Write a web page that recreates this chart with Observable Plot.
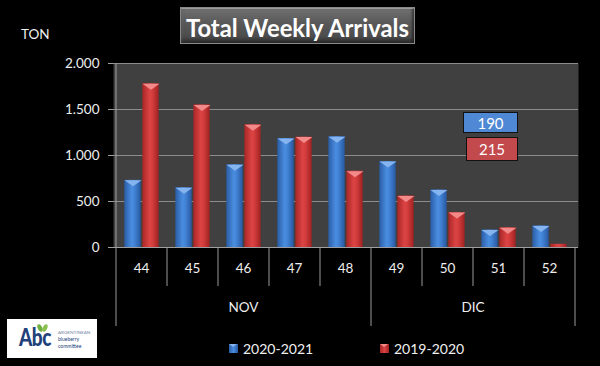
<!DOCTYPE html>
<html><head><meta charset="utf-8">
<script src="https://cdn.jsdelivr.net/npm/d3@7"></script>
<script src="https://cdn.jsdelivr.net/npm/@observablehq/plot@0.6"></script>
<style>
html,body{margin:0;padding:0;background:#000;overflow:hidden;}
#wrap{position:relative;width:600px;height:366px;background:#000;overflow:hidden;font-family:Lato,"Open Sans",sans-serif;color:#eee;}
#chart{position:absolute;left:0;top:0;}
.abs{position:absolute;}
#ton{left:21px;top:26px;font-size:13.5px;line-height:16px;color:#f0f0f0;}
#title{left:180px;top:7px;width:235px;height:37px;box-sizing:border-box;border:1px solid #8a8a8a;
  background:linear-gradient(#707070,#585858 45%,#474747);
  box-shadow:inset 0 1px 0 rgba(255,255,255,.35),inset 0 -3px 4px rgba(0,0,0,.45),inset 2px 0 2px rgba(255,255,255,.12),inset -2px 0 2px rgba(0,0,0,.3);}
#title svg{position:absolute;left:0;top:0;}
.box{display:flex;align-items:center;justify-content:center;box-sizing:border-box;border:1.5px solid #111;color:#fff;font-size:15px;}
.leg{display:flex;align-items:center;height:16px;font-size:14px;color:#f0f0f0;}
.ico{width:9px;height:9px;margin-right:5px;position:relative;}
</style></head><body>
<div id="wrap">
  <div id="chart"></div>
  <div id="ton" class="abs"></div>
  <div id="title" class="abs"></div>
  <div id="boxBlue" class="abs box"></div>
  <div id="boxRed" class="abs box"></div>
  <div id="legend"></div>
  <div id="logo" class="abs" style="left:7px;top:319px;width:90px;height:39px;background:#fff;"></div>
</div>
<script>
// ---- data ----
const weeks = ["44","45","46","47","48","49","50","51","52"];
const arrivals2021 = [730, 650, 900, 1185, 1205, 935, 625, 190, 235];
const arrivals2020 = [1780, 1550, 1335, 1200, 830, 560, 380, 215, 35];
const seriesNames = ["2020-2021", "2019-2020"];
const monthLabels = ["NOV", "DIC"];
const monthWeekCounts = [5, 4];
const yTicks = [0, 500, 1000, 1500, 2000];
const titleText = "Total Weekly Arrivals";
const unitLabel = "TON";
const highlightWeek = "51";

const rows2021 = weeks.map((w, i) => ({week: w, value: arrivals2021[i], series: seriesNames[0]}));
const rows2020 = weeks.map((w, i) => ({week: w, value: arrivals2020[i], series: seriesNames[1]}));

const W = 600, H = 366, mL = 113, mR = 22, mT = 63, mB = 119;
const step = (W - mL - mR) / weeks.length;
const barW = 17, gap = 1;
const padL = (step - 2 * barW - gap) / 2;
const blueInsetL = padL, blueInsetR = step - padL - barW;
const redInsetL = padL + barW + gap, redInsetR = padL;
const blueDx = padL + barW / 2 - step / 2;
const redDx = padL + barW + gap + barW / 2 - step / 2;

const fmt = d3.formatLocale({decimal: ",", thousands: ".", grouping: [3], currency: ["", ""]}).format(",");

const chevron = {draw(ctx) { ctx.moveTo(-barW/2, 0); ctx.lineTo(barW/2, 0); ctx.lineTo(0, 6); ctx.closePath(); }};

function xAxisRender(index, scales, values, dims) {
  const x = scales.x;
  const st = x(weeks[1]) - x(weeks[0]);
  const left0 = x(weeks[0]);
  const y0 = dims.height - dims.marginBottom;
  const g = d3.create("svg:g");
  g.append("line").attr("x1", left0).attr("x2", left0).attr("y1", dims.marginTop).attr("y2", y0)
    .attr("stroke", "#a0a0a0");
  const starts = [0];
  monthWeekCounts.forEach(c => starts.push(starts[starts.length - 1] + c));
  for (let i = 0; i <= weeks.length; i++) {
    const xx = left0 + i * st;
    const long = starts.includes(i);
    g.append("line").attr("x1", xx).attr("x2", xx).attr("y1", y0).attr("y2", y0 + (long ? 79 : 39))
      .attr("stroke", "#9a9a9a");
  }
  weeks.forEach((w, i) => {
    g.append("text").attr("x", left0 + (i + 0.5) * st).attr("y", y0 + 21).attr("dy", "0.35em")
      .attr("text-anchor", "middle").attr("fill", "#eeeeee").attr("font-size", 13.5).text(w);
  });
  monthLabels.forEach((m, j) => {
    const cx = left0 + (starts[j] + starts[j + 1]) / 2 * st;
    g.append("text").attr("x", cx).attr("y", y0 + 60).attr("dy", "0.35em")
      .attr("text-anchor", "middle").attr("fill", "#eeeeee").attr("font-size", 13.5).text(m);
  });
  return g.node();
}

const svg = Plot.plot({
  width: W, height: H,
  marginTop: mT, marginBottom: mB, marginLeft: mL, marginRight: mR,
  style: {background: "transparent", color: "#eeeeee", fontFamily: "Lato, 'Open Sans', sans-serif", fontSize: "13.5px", overflow: "visible"},
  x: {domain: weeks, paddingInner: 0, paddingOuter: 0, axis: null},
  y: {domain: [0, 2000]},
  marks: [
    Plot.frame({fill: "#404040", stroke: "none"}),
    Plot.gridY(yTicks, {stroke: "#8c8c8c", strokeOpacity: 1}),
    Plot.ruleY([0], {stroke: "#a0a0a0"}),
    Plot.barY(rows2021, {x: "week", y: "value", fill: "url(#gBlue)", insetLeft: blueInsetL, insetRight: blueInsetR}),
    Plot.barY(rows2020, {x: "week", y: "value", fill: "url(#gRed)", insetLeft: redInsetL, insetRight: redInsetR}),
    Plot.dot(rows2021.filter(d => d.value > 70), {x: "week", y: "value", symbol: chevron, fill: "#86b4ee", stroke: "none", dx: blueDx}),
    Plot.dot(rows2020.filter(d => d.value > 70), {x: "week", y: "value", symbol: chevron, fill: "#f28a8a", stroke: "none", dx: redDx}),
    Plot.axisY(yTicks, {tickSize: 5, tickPadding: 9, tickFormat: fmt, stroke: "#a0a0a0", fill: "#eeeeee", fontSize: 13.5, label: null}),
    xAxisRender
  ]
});

const defs = d3.select(svg).insert("defs", ":first-child");
function grad(id, stops) {
  const lg = defs.append("linearGradient").attr("id", id).attr("x1", 0).attr("x2", 1).attr("y1", 0).attr("y2", 0);
  stops.forEach(([o, c]) => lg.append("stop").attr("offset", o).attr("stop-color", c));
}
grad("gBlue", [[0, "#2a5da6"], [0.45, "#4a8de0"], [0.6, "#4485d8"], [1, "#2858a0"]]);
grad("gRed", [[0, "#a82626"], [0.45, "#dc4444"], [0.6, "#d63e3e"], [1, "#a02222"]]);
document.getElementById("chart").appendChild(svg);

// ---- overlays ----
document.getElementById("ton").textContent = unitLabel;
document.getElementById("title").innerHTML =
  `<svg width="233" height="35"><text x="116.5" y="29" text-anchor="middle" textLength="223" lengthAdjust="spacingAndGlyphs" font-family="Lato, 'Open Sans', sans-serif" font-weight="700" font-size="24" fill="#ffffff">${titleText}</text></svg>`;

const hi = weeks.indexOf(highlightWeek);
const bb = document.getElementById("boxBlue");
Object.assign(bb.style, {left: "463px", top: "112px", width: "55px", height: "21px", background: "#4f88d4"});
bb.textContent = arrivals2021[hi];
const br = document.getElementById("boxRed");
Object.assign(br.style, {left: "466px", top: "137px", width: "52px", height: "24px", background: "#c24a4c"});
br.textContent = arrivals2020[hi];

const legend = document.getElementById("legend");
const legItems = [
  {name: seriesNames[0], left: 229, bg: "linear-gradient(90deg,#2a5da6,#4a8de0,#2858a0)", cap: "#86b4ee"},
  {name: seriesNames[1], left: 380, bg: "linear-gradient(90deg,#a82626,#dc4444,#a02222)", cap: "#f28a8a"}
];
legItems.forEach(it => {
  const d = document.createElement("div");
  d.className = "abs leg";
  d.style.left = it.left + "px"; d.style.top = "340px";
  d.innerHTML = `<span class="ico" style="background:${it.bg}"><span style="position:absolute;left:0;top:0;width:0;height:0;border-left:4.5px solid transparent;border-right:4.5px solid transparent;border-top:3px solid ${it.cap}"></span></span><span>${it.name}</span>`;
  legend.appendChild(d);
});

document.getElementById("logo").innerHTML = `<svg width="90" height="39">
  <text transform="translate(12,27) scale(1,1.3)" font-family="Lato, sans-serif" font-weight="900" font-size="19" letter-spacing="-0.5" fill="#22407a">Abc</text>
  <ellipse cx="33" cy="9" rx="2.2" ry="4" fill="#6fae3f" transform="rotate(-25 33 9)"/>
  <ellipse cx="38" cy="9" rx="2.2" ry="4" fill="#8cc152" transform="rotate(25 38 9)"/>
  <text x="51" y="15" font-family="Lato, sans-serif" font-size="4.6" fill="#6f7f9f">ARGENTINEAN</text>
  <text x="51" y="22" font-family="Lato, sans-serif" font-size="5" fill="#22407a">blueberry</text>
  <text x="51" y="29" font-family="Lato, sans-serif" font-size="5" fill="#22407a">committee</text>
</svg>`;
</script>
</body></html>
